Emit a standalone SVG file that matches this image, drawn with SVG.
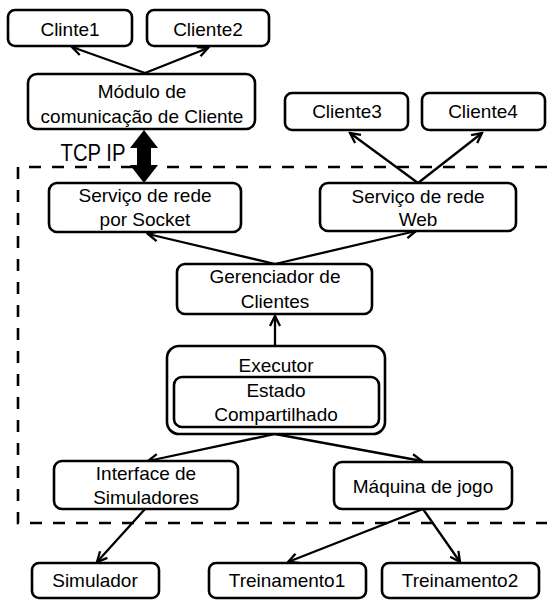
<svg xmlns="http://www.w3.org/2000/svg" width="547" height="601" viewBox="0 0 547 601">
<defs>
<style>
.box{fill:#fff;stroke:#000;stroke-width:2.6}
.t{font-family:"Liberation Sans",Arial,sans-serif;font-size:19px;fill:#000;text-anchor:middle}
.c{stroke:#000;stroke-width:2.3;fill:none;marker-end:url(#ah)}
</style>
<marker id="ah" markerUnits="userSpaceOnUse" markerWidth="14" markerHeight="14" viewBox="0 0 14 14" refX="12" refY="7" orient="auto">
<path d="M2,2 L12,7 L2,12" fill="none" stroke="#000" stroke-width="2.3"/>
</marker>
</defs>
<rect width="547" height="601" fill="#fff"/>
<path d="M547,167 H18 V523 H547" fill="none" stroke="#000" stroke-width="2.6" stroke-dasharray="12,11"/>
<g id="connectors">
<line class="c" x1="145" y1="73" x2="72" y2="47"/>
<line class="c" x1="145" y1="73" x2="208" y2="48"/>
<line class="c" x1="418" y1="183" x2="350" y2="133"/>
<line class="c" x1="418" y1="183" x2="482" y2="133"/>
<line class="c" x1="275" y1="264" x2="148" y2="234"/>
<line class="c" x1="275" y1="264" x2="416" y2="231"/>
<line class="c" x1="275" y1="346" x2="275" y2="316"/>
<line class="c" x1="275" y1="434" x2="148" y2="461"/>
<line class="c" x1="275" y1="434" x2="422" y2="461"/>
<line class="c" x1="145" y1="509" x2="97" y2="562"/>
<line class="c" x1="423" y1="509" x2="288" y2="562"/>
<line class="c" x1="423" y1="509" x2="460" y2="562"/>
<polygon points="144,130 158,148 151,148 151,165 158,165 144,183 130,165 137,165 137,148 130,148" fill="#000"/>
<text class="t" x="93" y="161" style="font-size:23px" textLength="65" lengthAdjust="spacingAndGlyphs">TCP IP</text>
</g>
<g id="clinte1"><rect class="box" x="8" y="10" width="124" height="36" rx="7"/><text class="t" x="70" y="36">Clinte1</text></g>
<g id="cliente2"><rect class="box" x="147" y="10" width="122" height="36" rx="7"/><text class="t" x="208" y="36">Cliente2</text></g>
<g id="modulo"><rect class="box" x="28" y="74" width="227" height="55" rx="9"/><text class="t" x="142" y="98">Módulo de</text><text class="t" x="142" y="123">comunicação de Cliente</text></g>
<g id="cliente3"><rect class="box" x="285" y="93" width="123" height="37" rx="7"/><text class="t" x="347" y="118">Cliente3</text></g>
<g id="cliente4"><rect class="box" x="422" y="93" width="123" height="37" rx="7"/><text class="t" x="483" y="118">Cliente4</text></g>
<g id="socket"><rect class="box" x="49" y="183" width="192" height="49" rx="8"/><text class="t" x="145" y="202">Serviço de rede</text><text class="t" x="145" y="226">por Socket</text></g>
<g id="web"><rect class="box" x="320" y="183" width="196" height="48" rx="8"/><text class="t" x="418" y="203">Serviço de rede</text><text class="t" x="418" y="226">Web</text></g>
<g id="gerenciador"><rect class="box" x="177" y="264" width="195" height="50" rx="8"/><text class="t" x="275" y="283">Gerenciador de</text><text class="t" x="275" y="308">Clientes</text></g>
<g id="executor"><rect class="box" x="167" y="346" width="218" height="88" rx="12"/><text class="t" x="276" y="372">Executor</text>
<g id="estado"><rect class="box" x="174" y="377" width="205" height="50" rx="8"/><text class="t" x="276" y="397">Estado</text><text class="t" x="276" y="421">Compartilhado</text></g></g>
<g id="interface"><rect class="box" x="54" y="461" width="184" height="48" rx="8"/><text class="t" x="146" y="480">Interface de</text><text class="t" x="146" y="504">Simuladores</text></g>
<g id="maquina"><rect class="box" x="334" y="462" width="178" height="47" rx="8"/><text class="t" x="423" y="493">Máquina de jogo</text></g>
<g id="simulador"><rect class="box" x="32" y="563" width="127" height="35" rx="7"/><text class="t" x="95" y="587">Simulador</text></g>
<g id="treinamento1"><rect class="box" x="209" y="563" width="157" height="35" rx="7"/><text class="t" x="287" y="587">Treinamento1</text></g>
<g id="treinamento2"><rect class="box" x="382" y="563" width="157" height="35" rx="7"/><text class="t" x="460" y="587">Treinamento2</text></g>
</svg>
